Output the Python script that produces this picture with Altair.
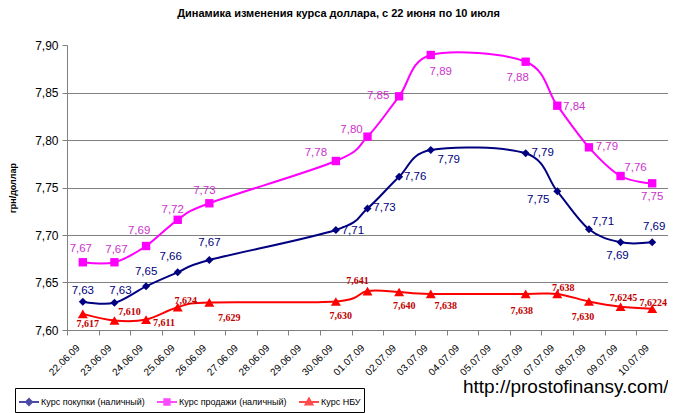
import altair as alt
import pandas as pd

# ---- data ----
all_dates = ["22.06.09", "23.06.09", "24.06.09", "25.06.09", "26.06.09", "27.06.09",
             "28.06.09", "29.06.09", "30.06.09", "01.07.09", "02.07.09", "03.07.09",
             "04.07.09", "05.07.09", "06.07.09", "07.07.09", "08.07.09", "09.07.09",
             "10.07.09"]
obs_dates = ["22.06.09", "23.06.09", "24.06.09", "25.06.09", "26.06.09", "30.06.09",
             "01.07.09", "02.07.09", "03.07.09", "06.07.09", "07.07.09", "08.07.09",
             "09.07.09", "10.07.09"]
buy = [7.6298, 7.6287, 7.646, 7.6607, 7.6737, 7.7053, 7.728, 7.7614, 7.7895, 7.786,
       7.746, 7.706, 7.6923, 7.6923]
sell = [7.6713, 7.6713, 7.6884, 7.716, 7.7334, 7.7779, 7.8035, 7.846, 7.8895, 7.8824,
        7.8361, 7.7923, 7.7621, 7.7544]
nbu = [7.617, 7.610, 7.611, 7.624, 7.629, 7.630, 7.641, 7.640, 7.638, 7.638, 7.638,
       7.630, 7.6245, 7.6224]
series_names = ["Курс покупки (наличный)", "Курс продажи (наличный)", "Курс НБУ"]
series_colors = ["#000080", "#FF00FF", "#FF0000"]
y_ticks = [7.60, 7.65, 7.70, 7.75, 7.80, 7.85, 7.90]

# ---- label placement (pixel offsets from each point) ----
buy_dx = [0, 6, 0, -7, 0, 17, 17, 16, 18, 17, -19, 14, -3, 2]
buy_dy = [-11, -12, -14, -15, -17, 1, 0, 0, 10, 0, 9, -7, 14, -15]
sell_dx = [-2, 2, -7, -5, -5, -20, -16, -21, 10, -8, 17, 18, 15, 0]
sell_dy = [-13, -12, -15, -10, -12, -8, -7, 0, 17, 16, 1, 0, -8, 14]
nbu_dx = [5, 15, 18, 8, 20, 5, -10, 5, 15, -4, 6, -6, 3, 1]
nbu_dy = [10, -9, 3, -6, 16, 14, -10, 14, 12, 17, -6, 15, -9, -6]


def fmt2(v):
    return f"{v:.2f}".replace(".", ",")


def fmt_nbu(v):
    s = f"{v:.4f}"
    if s.endswith("0"):
        s = s[:-1]
    return s.replace(".", ",")


def make_df(vals, fmt, dxs, dys):
    return pd.DataFrame({"date": obs_dates, "value": vals,
                         "label": [fmt(v) for v in vals], "dx": dxs, "dy": dys})


df_buy = make_df(buy, fmt2, buy_dx, buy_dy)
df_sell = make_df(sell, fmt2, sell_dx, sell_dy)
df_nbu = make_df(nbu, fmt_nbu, nbu_dx, nbu_dy)

FONT = "Liberation Sans"
GRID = "#808080"

x_axis = alt.Axis(
    title="http://prostofinansy.com/", titleX=601, titleY=56, titleAlign="right",
    titleBaseline="middle", titleFontSize=19, titleFontWeight="normal",
    titleFont=FONT, titleColor="black",
    labelAngle=315, labelAlign="right", labelBaseline="middle", labelPadding=11,
    labelOffset=-5, labelFontSize=10, labelFont=FONT, labelColor="black",
    labelOverlap=False, tickBand="extent", tickSize=5, tickColor=GRID,
    domainColor=GRID, grid=False)

y_axis = alt.Axis(
    title="грн/доллар", titleFontSize=9, titleFontWeight="bold", titleFont=FONT,
    titleColor="black", titleAngle=270, titleX=-55, titleY=142.5, titleAlign="center",
    titleBaseline="middle",
    values=y_ticks, labelExpr="replace(format(datum.value, '.2f'), '.', ',')",
    labelFontSize=12, labelFont=FONT, labelColor="black", labelPadding=4,
    tickSize=5, tickColor=GRID, domainColor=GRID,
    grid=True, gridColor=GRID,
    gridOpacity={"condition": {"test": "datum.value > 7.89", "value": 0}, "value": 1})

x_enc = alt.X("date:O", scale=alt.Scale(type="band", domain=all_dates,
                                        paddingInner=0, paddingOuter=0), axis=x_axis)
y_enc = alt.Y("value:Q", scale=alt.Scale(domain=[7.6, 7.9], nice=False, zero=False),
              axis=y_axis)


def series_layers(df, color, shape, size, lbl_color, lbl_font, lbl_size, lbl_weight):
    base = alt.Chart(df).encode(x=x_enc, y=y_enc)
    line = base.mark_line(color=color, strokeWidth=2, interpolate="cardinal")
    pts = base.mark_point(shape=shape, filled=True, size=size, color=color, opacity=1)
    txt = base.mark_text(dx=alt.ExprRef(expr="datum.dx"), dy=alt.ExprRef(expr="datum.dy"),
                         color=lbl_color, font=lbl_font, fontSize=lbl_size,
                         fontWeight=lbl_weight, align="center",
                         baseline="middle").encode(text="label:N")
    return [line, pts, txt]


layers = []
layers += series_layers(df_nbu, series_colors[2], "triangle-up", 100, "#C00000",
                        "Liberation Serif", 10, "bold")
layers += series_layers(df_buy, series_colors[0], "diamond", 64, "#000080",
                        FONT, 11.5, "normal")
layers += series_layers(df_sell, series_colors[1], "square", 70, "#CC33CC",
                        FONT, 11.5, "normal")

# legend-only layer (no rows drawn)
legend_paths = [
    "M-1,0H1M0,-0.3L0.3,0L0,0.3L-0.3,0Z",
    "M-1,0H1M-0.27,-0.27H0.27V0.27H-0.27Z",
    "M-1,0H1M0,-0.34L0.34,0.24H-0.34Z",
]
legend_layer = alt.Chart(df_buy).transform_filter("false").mark_point(
    filled=True).encode(
    color=alt.Color("series:N", scale=alt.Scale(domain=series_names, range=series_colors),
                    legend=alt.Legend(title=None)),
    stroke=alt.Stroke("series:N", scale=alt.Scale(domain=series_names, range=series_colors),
                      legend=alt.Legend(title=None)),
    shape=alt.Shape("series:N", scale=alt.Scale(domain=series_names, range=legend_paths),
                    legend=alt.Legend(title=None)),
)
layers.append(legend_layer)

chart = alt.layer(*layers).properties(
    width=601, height=285,
    title=alt.TitleParams(text="Динамика изменения курса доллара, с 22 июня по 10 июля",
                          fontSize=11, fontWeight="bold", font=FONT, color="black",
                          anchor="middle", frame="group", dx=-29, offset=20),
    autosize=alt.AutoSizeParams(type="none"),
    padding={"left": 59, "top": 37, "right": 0, "bottom": 83},
).configure_view(stroke="transparent").configure_legend(
    orient="none", legendX=-52, legendY=343, direction="horizontal",
    strokeColor="black", fillColor="white", padding=3, labelFontSize=9,
    labelFont=FONT, labelColor="black", symbolSize=400, symbolStrokeWidth=2,
    columnPadding=8, labelOffset=1, gridAlign="none",
)

chart.save("out.html", embed_options={"renderer": "svg", "actions": False})
